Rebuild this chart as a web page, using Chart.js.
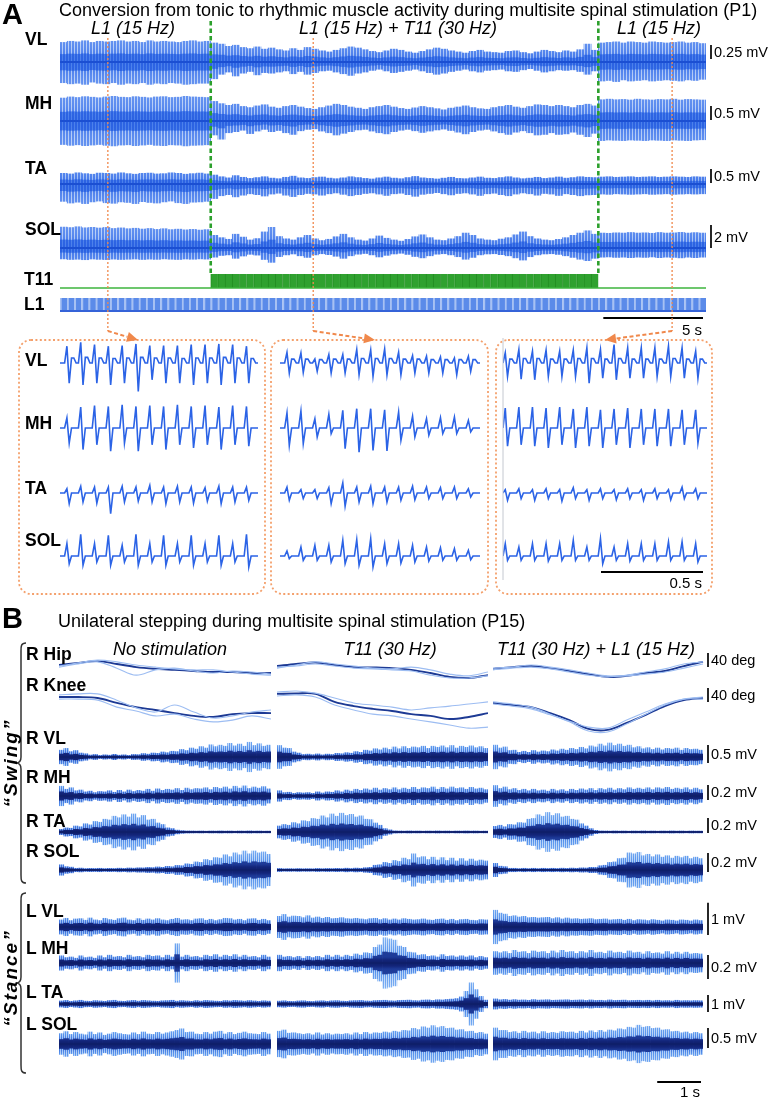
<!DOCTYPE html>
<html><head><meta charset="utf-8">
<script src="https://cdn.jsdelivr.net/npm/chart.js@4.4.1/dist/chart.umd.min.js"></script>
<style>
html,body{margin:0;padding:0;background:#fff;}
body{width:771px;height:1098px;position:relative;overflow:hidden;font-family:"Liberation Sans",Arial,Helvetica,sans-serif;color:#000;}
canvas{position:absolute;}
.t{position:absolute;white-space:nowrap;line-height:1;z-index:6;}
#ov{position:absolute;left:0;top:0;z-index:5;pointer-events:none;}
</style></head><body>
<svg id="ov" width="771" height="1098" xmlns="http://www.w3.org/2000/svg"></svg>
<script>
// ======================= DATA =======================
// ---- Panel A : P1, 90 bins of 0.36 s, envelope min/max per bin (µV)
const A_TITLE = 'Conversion from tonic to rhythmic muscle activity during multisite spinal stimulation (P1)';
const A_EPOCHS = ['L1 (15 Hz)', 'L1 (15 Hz) + T11 (30 Hz)', 'L1 (15 Hz)'];
const A_MUSCLES = ['VL', 'MH', 'TA', 'SOL'];
const A_SCALE_UV = [250, 500, 500, 2000];
const A_SCALE_TXT = ['0.25 mV', '0.5 mV', '0.5 mV', '2 mV'];
const A_SEC_PER_BIN = 0.36;
const A_TIME_BAR_S = 5;
const T11_ON_S = [7.56, 27.0];
const ZOOM_AT_S = [2.4, 12.7, 30.7];

const A_VL_HI = [350,370,360,380,350,370,360,370,380,360, 370,350,380,360,370,360,350,370,380,360,
 370,340,320,280,300,260,240,270,230,250, 220,200,240,210,260,230,200,180,210,240,
 270,250,220,190,170,200,230,210,180,160, 190,220,250,230,200,180,160,190,210,180,
 170,160,190,200,170,150,180,210,190,170, 200,180,220,320,210,340,350,360,340,360,
 350,340,360,350,340,350,360,340,350,330];
const A_VL_LO = [-370,-390,-380,-400,-360,-380,-390,-370,-400,-380, -390,-370,-400,-380,-390,-370,-380,-400,-390,-380,
 -380,-300,-220,-180,-250,-200,-170,-230,-190,-200, -180,-160,-210,-170,-220,-190,-160,-150,-180,-210,
 -240,-200,-180,-150,-130,-160,-190,-170,-150,-130, -160,-190,-220,-200,-170,-150,-130,-160,-180,-150,
 -140,-130,-160,-170,-140,-120,-150,-180,-160,-140, -150,-140,-170,-220,-160,-340,-330,-350,-320,-340,
 -330,-320,-340,-330,-320,-330,-340,-320,-330,-310];
const A_MH_HI = [820,860,840,870,850,830,860,880,850,840, 870,850,830,860,870,840,850,880,860,850,
 840,700,620,560,600,520,480,540,580,500, 460,520,560,500,450,420,480,540,600,560,
 500,460,420,480,520,560,500,450,420,470, 520,480,440,400,460,500,540,480,440,420,
 480,520,560,500,460,520,580,560,520,560, 520,480,560,600,540,760,780,760,770,750,
 780,760,750,770,760,780,750,770,760,750];
const A_MH_LO = [-840,-870,-850,-880,-860,-840,-870,-890,-860,-850, -880,-860,-840,-870,-880,-850,-860,-890,-870,-860,
 -850,-500,-650,-420,-380,-330,-450,-360,-300,-380, -340,-420,-480,-350,-300,-280,-360,-420,-500,-440,
 -380,-320,-300,-360,-420,-460,-380,-330,-300,-350, -410,-360,-320,-290,-340,-400,-460,-380,-330,-300,
 -360,-420,-480,-400,-350,-420,-500,-480,-420,-480, -460,-400,-480,-560,-440,-700,-680,-690,-700,-680,
 -690,-700,-680,-690,-700,-680,-690,-700,-680,-670];
const A_TA_HI = [380,360,400,370,350,390,380,360,400,370, 350,380,390,360,370,400,380,350,370,390,
 360,320,260,220,300,240,200,230,260,210, 190,240,280,220,200,230,250,210,190,220,
 260,230,200,180,220,250,210,190,230,270, 220,200,180,210,240,200,190,220,250,210,
 200,230,260,220,190,210,240,200,220,250, 210,230,260,240,230,250,260,240,250,260,
 240,250,260,240,250,260,250,240,260,250];
const A_TA_LO = [-620,-680,-650,-700,-640,-610,-670,-690,-640,-660, -700,-630,-660,-680,-640,-610,-670,-700,-650,-640,
 -620,-520,-420,-380,-460,-400,-350,-380,-430,-360, -330,-400,-450,-380,-340,-360,-400,-350,-320,-370,
 -420,-380,-340,-320,-360,-410,-350,-330,-380,-440, -370,-340,-310,-350,-390,-340,-320,-360,-410,-350,
 -330,-380,-420,-360,-320,-350,-400,-340,-360,-410, -350,-380,-420,-390,-380,-360,-370,-350,-360,-370,
 -360,-350,-370,-360,-350,-370,-360,-350,-360,-350];
const A_SOL_HI = [1820,1780,1850,1760,1800,1740,1790,1700,1750,1680, 1720,1650,1700,1620,1680,1600,1640,1580,1620,1560,
 1600,1100,900,760,1200,950,700,820,1400,1800, 1000,800,700,900,1100,800,650,760,980,1200,
 900,700,620,800,1050,850,700,600,750,980, 1150,900,700,650,800,1000,1300,1100,800,700,
 650,780,900,1150,1400,1000,800,700,650,750, 900,1100,1300,1500,1200,1300,1280,1320,1300,1350,
 1300,1320,1280,1350,1300,1320,1360,1300,1340,1300];
const A_SOL_LO = [-950,-1000,-980,-1020,-960,-990,-1010,-970,-1000,-980, -960,-1000,-970,-990,-950,-980,-1000,-960,-980,-950,
 -970,-800,-650,-600,-900,-700,-550,-620,-1000,-1250, -750,-600,-520,-680,-820,-600,-500,-580,-720,-900,
 -680,-540,-480,-600,-780,-640,-520,-460,-560,-740, -860,-680,-540,-500,-600,-760,-980,-820,-600,-520,
 -500,-580,-680,-860,-1050,-760,-600,-520,-500,-560, -680,-820,-980,-1100,-900,-800,-780,-820,-800,-840,
 -800,-820,-780,-840,-800,-820,-860,-800,-840,-800];

// ---- Panel A zoom windows: one value per 15 Hz evoked response (µV): peak, trough, rebound
const ZOOM_PULSE_HZ = 15;
const ZOOM_TIME_BAR_S = 0.5;
const Z1_VL_HI = [300,370,330,300,310,340,310,310,310,330,330,340,330,300];
const Z1_VL_LO = [-360,-390,-360,-390,-360,-510,-300,-360,-360,-390,-360,-390,-360,-360];
const Z1_VL_POST = [90,100,90,80,90,100,90,90,80,90,90,100,90,80];
const Z1_MH_HI = [360,750,800,770,830,770,800,770,830,770,800,750,800,770];
const Z1_MH_LO = [-540,-770,-600,-830,-540,-830,-600,-770,-600,-710,-600,-770,-600,-650];
const Z1_TA_HI = [150,240,210,210,240,210,270,210,240,210,190,240,210,210];
const Z1_TA_LO = [-380,-320,-360,-740,-320,-290,-320,-380,-320,-360,-290,-380,-320,-260];
const Z1_SOL_HI = [1070,1890,1070,1800,930,1890,1070,1800,1070,1800,1070,1800,1070,1890];
const Z1_SOL_LO = [-670,-810,-520,-810,-520,-810,-520,-810,-520,-810,-520,-810,-520,-960];

const Z2_VL_HI = [190,180,70,150,150,240,230,250,190,130,120,110,90,120];
const Z2_VL_LO = [-180,-170,-150,-180,-180,-210,-240,-210,-210,-180,-180,-180,-210,-150];
const Z2_VL_POST = [70,70,60,70,70,80,80,80,70,70,60,60,60,60];
const Z2_MH_HI = [540,610,330,490,630,690,690,650,570,420,330,370,390,270];
const Z2_MH_LO = [-620,-560,-320,-200,-740,-860,-800,-820,-440,-320,-260,-200,-200,-140];
const Z2_TA_HI = [210,120,120,190,360,210,240,210,210,240,210,190,210,150];
const Z2_TA_LO = [-260,-200,-200,-380,-470,-320,-380,-320,-260,-240,-200,-200,-200,-140];
const Z2_SOL_HI = [440,780,930,930,1370,1420,1510,1070,1070,930,780,720,640,500];
const Z2_SOL_LO = [-230,-370,-370,-520,-670,-810,-960,-670,-610,-520,-440,-370,-370,-320];

const Z3_VL_HI = [180,240,210,230,210,230,270,240,330,270,270,270,300,270,210];
const Z3_VL_LO = [-240,-290,-300,-240,-240,-240,-360,-270,-300,-270,-270,-240,-240,-270,-270];
const Z3_VL_POST = [70,80,80,70,70,80,80,70,80,70,70,70,80,70,70];
const Z3_MH_HI = [710,750,750,710,750,680,750,650,680,710,680,680,680,650,650];
const Z3_MH_LO = [-650,-600,-650,-710,-600,-710,-650,-710,-600,-710,-600,-650,-650,-600,-540];
const Z3_TA_HI = [120,150,120,150,120,190,120,150,120,150,120,150,120,210,150];
const Z3_TA_LO = [-260,-200,-260,-200,-290,-200,-260,-200,-240,-200,-260,-200,-240,-200,-200];
const Z3_SOL_HI = [1070,780,1070,1070,1070,1370,780,1510,780,1070,1070,1070,1220,1220,1070];
const Z3_SOL_LO = [-380,-380,-380,-440,-380,-380,-380,-670,-380,-440,-380,-380,-380,-380,-520];

// ---- Panel B : P15, three conditions, EMG amplitude per 0.109 s bin (µV)
const B_TITLE = 'Unilateral stepping during multisite spinal stimulation (P15)';
const B_CONDITIONS = ['No stimulation', 'T11 (30 Hz)', 'T11 (30 Hz) + L1 (15 Hz)'];
const B_SEC_PER_BIN = 0.109;
const B_KIN_SEC_PER_SAMPLE = 0.436;
const B_TIME_BAR_S = 1;
const B_ROWS = ['R VL', 'R MH', 'R TA', 'R SOL', 'L VL', 'L MH', 'L TA', 'L SOL'];
const B_SCALE_UV = [500, 200, 200, 200, 1000, 200, 1000, 500];
const B_SCALE_TXT = ['0.5 mV', '0.2 mV', '0.2 mV', '0.2 mV', '1 mV', '0.2 mV', '1 mV', '0.5 mV'];

const R_VL = [
 [190,240,150,180,110,90,55,70,45,60,50,75,50,60,45,70,65,95,80,110,100,140,120,160,150,210,180,250,220,290,250,340,290,330,300,380,310,360,300,410,320,370,300,330],
 [320,250,240,140,110,70,80,65,85,60,80,70,100,90,120,105,150,130,190,170,230,200,250,210,280,230,290,240,280,260,300,240,300,270,310,260,320,250,300,270,310,260,290,240],
 [330,250,280,180,190,130,160,130,180,140,170,150,200,170,220,190,240,210,270,230,310,280,360,310,390,320,360,300,330,260,290,230,260,210,250,200,240,220,250,190,240,210,220,190]];
const R_MH = [
 [130,90,110,70,80,55,65,45,60,55,70,50,75,55,80,60,75,65,90,65,95,75,90,80,100,75,105,85,100,95,110,85,115,100,120,95,130,105,135,100,120,105,125,95],
 [70,45,50,35,45,40,45,35,55,40,55,50,70,55,80,65,90,75,95,80,105,80,100,85,110,85,105,90,115,90,110,100,120,90,115,95,120,100,110,90,115,95,105,85],
 [140,100,120,85,100,75,90,70,90,70,80,65,90,70,85,65,90,75,95,80,100,75,100,85,105,80,100,85,110,90,105,90,110,85,110,95,115,90,105,90,110,85,105,85]];
const R_TA = [
 [35,55,50,80,70,110,95,140,130,170,160,210,190,230,200,240,190,220,160,170,120,100,55,45,25,18,14,13,12,13,11,13,12,14,12,13,11,13,12,14,12,13,11,12],
 [80,100,90,125,110,150,140,180,170,215,190,240,210,250,220,235,200,215,170,165,120,90,45,28,15,13,12,14,12,13,11,13,12,14,12,13,11,13,12,14,12,13,11,12],
 [75,90,70,100,95,125,120,170,180,230,210,260,220,245,200,210,170,160,110,80,45,22,14,13,12,14,12,13,11,13,12,14,12,13,11,13,12,14,12,13,11,13,12,12]];
const R_SOL = [
 [55,35,30,18,20,15,17,16,18,15,17,16,19,17,21,19,23,22,27,25,32,28,38,34,48,45,65,60,85,80,110,100,130,125,160,140,180,160,200,170,200,180,190,165],
 [16,13,14,13,15,13,14,13,16,14,16,15,17,15,19,16,20,18,24,28,50,55,80,70,100,90,125,110,170,130,140,110,135,105,130,100,125,95,120,95,115,95,105,95],
 [70,40,35,18,18,15,18,15,18,15,18,16,18,16,19,17,20,18,22,21,28,27,45,50,80,85,120,125,180,170,185,150,165,140,160,135,150,125,145,130,145,120,135,120]];
const L_VL = [
 [220,270,200,250,260,210,280,220,200,270,230,210,260,280,220,200,260,210,250,220,260,220,200,240,270,220,230,200,250,260,210,240,200,230,270,260,220,240,200,250,260,210,240,200],
 [330,390,310,340,330,290,350,280,310,270,300,260,270,290,260,250,270,250,230,260,270,230,260,220,250,220,260,240,220,230,250,220,210,240,250,210,240,200,230,240,210,200,230,220],
 [520,430,400,330,350,310,330,290,300,280,290,300,260,290,250,280,250,260,240,250,260,230,240,250,220,230,240,210,240,200,230,220,200,230,210,190,220,210,190,220,210,190,220,200]];
const L_MH = [
 [60,45,50,40,60,45,50,40,60,45,65,50,55,45,65,50,55,45,65,55,60,45,65,50,160,50,65,50,55,45,65,55,70,50,65,55,70,50,65,50,55,45,65,50],
 [65,50,55,45,55,40,55,45,55,45,65,50,65,50,65,55,75,65,85,80,130,150,210,200,190,140,130,90,85,65,70,55,60,50,70,55,60,50,60,50,60,45,55,45],
 [95,85,95,80,105,90,95,80,100,90,95,80,100,85,105,90,95,80,95,85,105,85,90,80,100,85,90,80,100,85,90,75,95,80,85,75,95,75,90,75,90,75,80,75]];
const L_TA = [
 [180,210,160,190,220,170,160,200,180,160,200,220,170,160,190,210,170,210,190,170,160,190,200,220,170,200,180,160,200,170,210,190,170,160,200,180,210,190,170,200,180,160,190,170],
 [170,190,160,150,180,190,160,150,180,190,160,190,200,170,160,190,200,210,180,170,200,210,220,190,180,210,220,230,200,190,230,240,210,250,240,270,290,320,420,750,1250,850,450,230],
 [300,250,270,230,260,230,240,220,260,230,240,250,220,230,240,250,220,230,240,210,240,210,220,200,240,210,220,230,200,210,220,200,220,190,220,190,200,180,220,190,200,190,200,190]];
const L_SOL = [
 [260,310,240,290,250,230,300,240,280,220,250,290,260,240,230,280,240,300,250,240,290,250,280,310,340,380,290,300,250,240,290,250,300,320,250,290,240,270,300,260,250,240,290,250],
 [320,350,270,280,260,240,260,230,280,230,260,230,250,240,260,230,280,240,290,250,280,270,300,280,320,300,340,330,390,360,430,400,460,410,440,390,400,350,360,310,320,270,290,250],
 [400,340,340,290,310,270,320,280,300,260,310,270,290,270,310,290,300,270,320,280,330,290,340,300,350,330,380,360,420,400,470,420,440,390,400,350,360,310,320,280,300,260,290,260]];

// ---- Panel B kinematics (deg), 12 samples per condition: mean and two single cycles
const HIP_MEAN = [[30,36,41,33,24,19,16,13,10,10,7,7],[27,33,37,30,24,23,21,16,7,-4,-7,1],[19,24,27,21,13,4,-4,-1,7,13,27,39]];
const HIP_C1 = [[24,33,39,21,1,16,21,13,7,13,10,4],[21,30,39,33,27,21,19,24,16,4,-1,10],[16,21,24,19,10,1,-4,1,10,19,33,39]];
const HIP_C2 = [[27,36,44,39,30,24,19,16,16,10,4,1],[24,27,33,27,21,19,16,13,1,-7,-7,-1],[21,24,30,24,16,7,-1,-1,4,10,21,33]];
const KNEE_MEAN = [[60,60,57,43,31,23,14,6,3,11,14,14],[69,70,69,46,34,26,20,11,6,-3,3,14],[43,37,31,14,-6,-31,-34,-14,9,34,51,57]];
const KNEE_C1 = [[66,69,69,51,29,17,37,17,0,6,17,23],[74,77,71,57,43,37,31,23,29,34,40,46],[46,40,31,11,-11,-37,-40,-17,11,37,54,60]];
const KNEE_C2 = [[54,54,51,31,20,6,11,-3,-11,-6,6,-3],[63,66,60,37,23,11,6,-3,-11,-20,-29,-26],[40,34,26,9,-9,-26,-29,-6,17,40,54,54]];
const KIN_SCALE_DEG = 40;

// ======================= LAYOUT / STYLE =======================
const FONT = '"Liberation Sans", Arial, Helvetica, sans-serif';
const A_X = [60, 706];
const A_ROWS = [
  {hi:A_VL_HI, lo:A_VL_LO, cy:62,  half:26, uvpx:17.86, bar:59,  lab:40},
  {hi:A_MH_HI, lo:A_MH_LO, cy:121, half:30, uvpx:35.7,  bar:120, lab:104},
  {hi:A_TA_HI, lo:A_TA_LO, cy:184, half:24, uvpx:35.7,  bar:183, lab:169},
  {hi:A_SOL_HI,lo:A_SOL_LO,cy:248, half:26, uvpx:87,    bar:248, lab:230}];
const Z_BOX_X = [[60,258],[280,480],[503,707]];
const Z_LEAD = [3,3,1];
const Z_ROWS_Y = [363, 428, 493, 556];
const Z_LAB_Y = [361, 424, 489, 541];
const B_SEG_X = [[59,271],[277,488],[493,703]];
const B_LAY = [
  {cy:757, half:18, uvpx:27.8, bar:763, lab:739},
  {cy:796, half:16, uvpx:13.3, bar:800, lab:778},
  {cy:832, half:24, uvpx:13.3, bar:833, lab:822},
  {cy:870, half:22, uvpx:10.5, bar:872, lab:852},
  {cy:927, half:26, uvpx:31,   bar:935, lab:912},
  {cy:963, half:28, uvpx:8.3,  bar:979, lab:949},
  {cy:1004,half:24, uvpx:59,   bar:1012,lab:993},
  {cy:1044,half:26, uvpx:25,   bar:1048,lab:1025}];
const SCALE_FONT = '14.5px ' + FONT;

Chart.defaults.animation = false;
Chart.defaults.responsive = false;
Chart.defaults.maintainAspectRatio = false;
Chart.defaults.events = [];
Chart.defaults.plugins.legend.display = false;
Chart.defaults.plugins.tooltip.enabled = false;

const tracePlugin = {
  id: 'trace',
  afterDatasetsDraw(chart, args, o) {
    const ctx = chart.ctx, x = chart.scales.x, y = chart.scales.y, ca = chart.chartArea;
    if (o.baseColor) {
      const y0 = y.getPixelForValue(0);
      ctx.save(); ctx.strokeStyle = o.baseColor; ctx.lineWidth = o.baseWidth;
      ctx.beginPath(); ctx.moveTo(ca.left, y0); ctx.lineTo(ca.right, y0); ctx.stroke(); ctx.restore();
    }
    if (o.vValue) {
      const len = Math.abs(y.getPixelForValue(o.vValue) - y.getPixelForValue(0));
      ctx.save(); ctx.strokeStyle = '#000'; ctx.lineWidth = 1.7;
      ctx.beginPath(); ctx.moveTo(o.vX, o.vBottom); ctx.lineTo(o.vX, o.vBottom - len); ctx.stroke();
      ctx.fillStyle = '#000'; ctx.font = SCALE_FONT; ctx.textAlign = 'left'; ctx.textBaseline = 'middle';
      ctx.fillText(o.vLabel, o.vX + 3, o.vBottom - len / 2 + 1); ctx.restore();
    }
    if (o.hValue) {
      const len = x.getPixelForValue(o.hValue) - x.getPixelForValue(0);
      ctx.save(); ctx.strokeStyle = '#000'; ctx.lineWidth = 2;
      ctx.beginPath(); ctx.moveTo(o.hRight - len, o.hY); ctx.lineTo(o.hRight, o.hY); ctx.stroke();
      ctx.fillStyle = '#000'; ctx.font = '15px ' + FONT; ctx.textAlign = 'right'; ctx.textBaseline = 'middle';
      ctx.fillText(o.hLabel, o.hRight - 1, o.hLabelY); ctx.restore();
    }
  }
};
Chart.register(tracePlugin);

function mkCanvas(left, top, w, h) {
  const c = document.createElement('canvas');
  c.width = w; c.height = h;
  c.style.left = left + 'px'; c.style.top = top + 'px'; c.style.width = w + 'px'; c.style.height = h + 'px';
  document.body.appendChild(c);
  return c.getContext('2d');
}
function vGrad(ctx, h, stops, center) {
  const g = ctx.createLinearGradient(0, 0, 0, h), pts = [];
  stops.forEach(([d, c]) => { pts.push([center - d, c]); pts.push([center + d, c]); });
  pts.sort((a, b) => a[0] - b[0]);
  pts.forEach(([p, c]) => g.addColorStop(Math.min(1, Math.max(0, p / h)), c));
  return g;
}
// striped fill: 'on' columns use the gradient, remaining columns use gap gradient (dense hairline look)
function stripeFill(chart, key, st, center) {
  chart._g = chart._g || {};
  if (chart._g[key]) return chart._g[key];
  const h = chart.height, pc = document.createElement('canvas');
  pc.width = st.pitch; pc.height = h;
  const p = pc.getContext('2d');
  p.fillStyle = vGrad(p, h, st.gap, center); p.fillRect(0, 0, st.pitch, h);
  p.fillStyle = vGrad(p, h, st.on, center); p.fillRect(0, 0, st.onCols, h);
  chart._g[key] = chart.ctx.createPattern(pc, 'repeat');
  return chart._g[key];
}
const A_STYLE = {
  fringe: { pitch: 3, onCols: 2, on: [[0,'#3a70e7'],[5,'#4a7deb'],[14,'#5b8bef'],[30,'#6b97f1']], gap: [[0,'#8fb0f3'],[10,'#afc8f6'],[30,'#c8daf9']] },
  core: { pitch: 3, onCols: 2, on: [[0,'#2b62e2'],[30,'#3269e4']], gap: [[0,'#4a7fea'],[30,'#5a8bed']] },
  coreFactor: 2.6, base: '#1b4fd2', baseW: 2.2 };
const B_STYLE = {
  fringe: { pitch: 2, onCols: 1, on: [[0,'#2a55c8'],[4,'#3a70dc'],[10,'#5a96ee'],[25,'#7fb2f4']], gap: [[0,'#6d96e6'],[8,'#b2cff6'],[25,'#d6e6fb']] },
  core: { pitch: 2, onCols: 2, on: [[0,'#0f1f6a'],[3,'#13257a'],[6,'#1d3a98'],[30,'#23459f']], gap: [[0,'#0f1f6a'],[30,'#23459f']] },
  coreFactor: 2.3, base: '#0f1f6a', baseW: 1.4 };

function bandChart(p) {
  const top = p.cy - p.half, h = 2 * p.half + (p.padB || 0);
  const ctx = mkCanvas(p.left, top, p.width, h);
  const rng = p.half * p.uvpx, S = p.style;
  const o = Object.assign({ baseColor: S.base, baseWidth: S.baseW }, p.trace || {});
  if (o.vBottom !== undefined) { o.vBottom -= top; o.vX -= p.left; }
  if (o.hY !== undefined) { o.hY -= top; o.hLabelY -= top; o.hRight -= p.left; }
  return new Chart(ctx, {
    type: 'bar',
    data: { labels: p.data.map((_, i) => i), datasets: [
      { data: p.data, yAxisID: 'y', backgroundColor: (c) => stripeFill(c.chart, 'f', S.fringe, p.half),
        borderWidth: 0, categoryPercentage: 1, barPercentage: 1, grouped: false, order: 2 },
      { data: p.data, yAxisID: 'yc', backgroundColor: (c) => stripeFill(c.chart, 'c', S.core, p.half),
        borderWidth: 0, categoryPercentage: 1, barPercentage: 1, grouped: false, order: 1 }] },
    options: { devicePixelRatio: 1,
      layout: { padding: { left: p.padL || 0, right: p.padR || 0, top: 0, bottom: p.padB || 0 } },
      scales: { x: { display: false },
        y: { display: false, min: -rng, max: rng },
        yc: { display: false, min: -rng * S.coreFactor, max: rng * S.coreFactor } },
      plugins: { trace: o } }
  });
}

// ======================= TEXT =======================
function txt(s, x, y, css, align) {
  const d = document.createElement('div'); d.className = 't'; d.textContent = s;
  d.style.left = x + 'px'; d.style.top = y + 'px';
  d.style.cssText += css;
  const tx = align === 'center' ? '-50%' : align === 'right' ? '-100%' : '0';
  d.style.transform = 'translate(' + tx + ',-50%)';
  document.body.appendChild(d); return d;
}
const LAB = 'font-weight:bold;font-size:17.5px;';
const SUB = 'font-style:italic;font-size:18px;';
txt('A', 2, 14, 'font-weight:bold;font-size:29px;');
txt(A_TITLE, 59, 10, 'font-size:18px;');
[[133,28],[398,28],[659,28]].forEach(([x, y], i) => txt(A_EPOCHS[i], x, y, SUB, 'center'));
A_ROWS.forEach((r, i) => txt(A_MUSCLES[i], 25, r.lab, LAB));
txt('T11', 24, 280, LAB); txt('L1', 24, 305, LAB);
A_MUSCLES.forEach((m, i) => txt(m, 25, Z_LAB_Y[i], LAB));
txt('B', 2, 618, 'font-weight:bold;font-size:29px;');
txt(B_TITLE, 58, 621, 'font-size:18px;');
[[170,649],[390,649],[596,649]].forEach(([x, y], i) => txt(B_CONDITIONS[i], x, y, SUB, 'center'));
txt('R Hip', 26, 655, LAB); txt('R Knee', 26, 686, LAB);
B_ROWS.forEach((r, i) => txt(r, 26, B_LAY[i].lab, LAB));
const rot = 'font-weight:bold;font-style:italic;font-size:19px;letter-spacing:2px;';
[['\u201CSwing\u201D', 763], ['\u201CStance\u201D', 978]].forEach(([s, y]) => {
  const d = txt(s, 10, y, rot, 'center'); d.style.transform = 'translate(-50%,-50%) rotate(-90deg)'; });

// ======================= PANEL A =======================
const aW = 771, aPadL = A_X[0], aPadR = 771 - A_X[1];
A_ROWS.forEach((r, i) => {
  bandChart({ left: 0, width: aW, cy: r.cy, half: r.half, uvpx: r.uvpx, padL: aPadL, padR: aPadR,
    data: r.lo.map((lo, k) => [lo, r.hi[k]]), style: A_STYLE,
    trace: { vValue: A_SCALE_UV[i], vX: 711, vBottom: r.bar, vLabel: A_SCALE_TXT[i] } });
});
const binCenters = A_VL_HI.map((_, i) => (i + 0.5) * A_SEC_PER_BIN);
const t11Data = binCenters.map(t => (t >= T11_ON_S[0] && t <= T11_ON_S[1]) ? [0, 1] : null);
const l1Data = binCenters.map(() => [0, 1]);
(function () {
  const ctx = mkCanvas(0, 270, aW, 22);
  new Chart(ctx, { type: 'bar',
    data: { labels: binCenters.map((_, i) => i), datasets: [{ data: t11Data, backgroundColor: '#2fa12f', borderColor: '#238e22',
      borderWidth: {left: 1, right: 0, top: 0, bottom: 0}, borderSkipped: false, categoryPercentage: 1, barPercentage: 1 }] },
    options: { devicePixelRatio: 1, layout: { padding: { left: aPadL, right: aPadR, top: 0, bottom: 0 } },
      scales: { x: { display: false }, y: { display: false, min: -4 / 14, max: 1 + 4 / 14 } },
      plugins: { trace: { baseColor: '#3cb43c', baseWidth: 1.5 } } } });
})();
const l1Chart = (function () {
  const ctx = mkCanvas(0, 294, aW, 42);
  return new Chart(ctx, { type: 'bar',
    data: { labels: binCenters.map((_, i) => i), datasets: [{ data: l1Data, backgroundColor: '#5b8be9', borderColor: '#a7c1f3',
      borderWidth: {left: 2, right: 0, top: 0, bottom: 0}, borderSkipped: false, categoryPercentage: 1, barPercentage: 1 }] },
    options: { devicePixelRatio: 1, layout: { padding: { left: aPadL, right: aPadR, top: 0, bottom: 25 } },
      scales: { x: { display: false }, y: { display: false, min: 0, max: 1 + 4 / 13 } },
      plugins: { trace: { baseColor: '#3563d8', baseWidth: 2, hValue: A_TIME_BAR_S / A_SEC_PER_BIN, hRight: 703, hY: 318 - 294, hLabel: '5 s', hLabelY: 331 - 294 } } } });
})();
const tPix = t => l1Chart.scales.x.getPixelForValue(t / A_SEC_PER_BIN - 0.5);

function pulses(hi, lo, post, lead) {
  const s = new Array(lead).fill(0);
  hi.forEach((h, i) => { const p = post ? post[i] : 0; s.push(h, lo[i], p, p, 0, 0); });
  return s;
}
const ZW = [
  [[Z1_VL_HI, Z1_VL_LO, Z1_VL_POST], [Z1_MH_HI, Z1_MH_LO], [Z1_TA_HI, Z1_TA_LO], [Z1_SOL_HI, Z1_SOL_LO]],
  [[Z2_VL_HI, Z2_VL_LO, Z2_VL_POST], [Z2_MH_HI, Z2_MH_LO], [Z2_TA_HI, Z2_TA_LO], [Z2_SOL_HI, Z2_SOL_LO]],
  [[Z3_VL_HI, Z3_VL_LO, Z3_VL_POST], [Z3_MH_HI, Z3_MH_LO], [Z3_TA_HI, Z3_TA_LO], [Z3_SOL_HI, Z3_SOL_LO]]];
const SAMPLES_PER_PULSE = 6;
ZW.forEach((win, w) => {
  const [x0, x1] = Z_BOX_X[w];
  win.forEach((arrs, m) => {
    const series = pulses(arrs[0], arrs[1], arrs[2], Z_LEAD[w]);
    const half = 30, cy = Z_ROWS_Y[m], uvpx = A_ROWS[m].uvpx;
    const last = (w === 2 && m === 3);
    const top = cy - half, h = 2 * half + (last ? 10 : 0);
    const ctx = mkCanvas(x0, top, x1 - x0, h);
    const tr = last ? { hValue: ZOOM_TIME_BAR_S * ZOOM_PULSE_HZ * SAMPLES_PER_PULSE, hRight: 703 - x0, hY: 572 - top, hLabel: '0.5 s', hLabelY: 584 - top } : {};
    new Chart(ctx, { type: 'line',
      data: { labels: series.map((_, i) => i), datasets: [{ data: series, borderColor: '#2b63e6', borderWidth: 1.6, pointRadius: 0, tension: 0, fill: false }] },
      options: { devicePixelRatio: 1, layout: { padding: { left: 0, right: 0, top: 0, bottom: last ? 10 : 0 } },
        scales: { x: { display: false, offset: false }, y: { display: false, min: -half * uvpx, max: half * uvpx } },
        plugins: { trace: tr } } });
  });
});

// ======================= PANEL B =======================
const B_EMG = [R_VL, R_MH, R_TA, R_SOL, L_VL, L_MH, L_TA, L_SOL];
B_EMG.forEach((row, r) => {
  const L = B_LAY[r];
  row.forEach((amps, s) => {
    const [x0, x1] = B_SEG_X[s];
    const isLast = s === 2;
    const p = { left: x0, width: isLast ? 771 - x0 : x1 - x0, padR: isLast ? 771 - x1 : 0,
      cy: L.cy, half: L.half, uvpx: L.uvpx, data: amps.map(a => [-a, a]), style: B_STYLE, trace: {} };
    if (isLast) Object.assign(p.trace, { vValue: B_SCALE_UV[r], vX: 708, vBottom: L.bar, vLabel: B_SCALE_TXT[r] });
    if (isLast && r === 7) {
      p.padB = 1098 - (L.cy + L.half);
      Object.assign(p.trace, { hValue: B_TIME_BAR_S / B_SEC_PER_BIN, hRight: 701, hY: 1082, hLabel: '1 s', hLabelY: 1093 });
    }
    bandChart(p);
  });
});
function kinChart(seg, top, h, degTop, degBottom, sets, barBottom) {
  const [x0, x1] = B_SEG_X[seg], isLast = seg === 2;
  const ctx = mkCanvas(x0, top, isLast ? 771 - x0 : x1 - x0, h);
  const tr = isLast ? { vValue: KIN_SCALE_DEG, vX: 708 - x0, vBottom: barBottom - top, vLabel: '40 deg' } : {};
  new Chart(ctx, { type: 'line',
    data: { labels: sets[0].map((_, i) => (i * B_KIN_SEC_PER_SAMPLE).toFixed(2)), datasets: [
      { data: sets[1], borderColor: '#9dbdf2', borderWidth: 1.1, pointRadius: 0, tension: 0.35 },
      { data: sets[2], borderColor: '#9dbdf2', borderWidth: 1.1, pointRadius: 0, tension: 0.35 },
      { data: sets[0], borderColor: '#1d3a94', borderWidth: 1.9, pointRadius: 0, tension: 0.35 }] },
    options: { devicePixelRatio: 1, layout: { padding: { left: 0, right: isLast ? 771 - x1 : 0, top: 0, bottom: 0 } },
      scales: { x: { display: false, offset: false }, y: { display: false, min: degBottom, max: degTop } },
      plugins: { trace: tr } } });
}
const DPP = 40 / 14;
[0, 1, 2].forEach(s => {
  kinChart(s, 640, 50, 30 + 25 * DPP, 30 - 25 * DPP, [HIP_MEAN[s], HIP_C1[s], HIP_C2[s]], 667);
  kinChart(s, 678, 66, 60 + 19 * DPP, 60 - 47 * DPP, [KNEE_MEAN[s], KNEE_C1[s], KNEE_C2[s]], 702);
});

// ======================= OVERLAY =======================
const ov = document.getElementById('ov');
function el(tag, attrs) { const e = document.createElementNS('http://www.w3.org/2000/svg', tag); for (const k in attrs) e.setAttribute(k, attrs[k]); ov.appendChild(e); return e; }
const OR = '#f0884b';
[[19,265],[271,488],[496,712]].forEach(([a, b]) => el('rect', { x: a, y: 340, width: b - a, height: 254, rx: 12, ry: 12, fill: 'none', stroke: '#f4a06c', 'stroke-width': 1.8, 'stroke-dasharray': '2 2.4' }));
el('line', { x1: 503, y1: 338, x2: 503, y2: 580, stroke: '#c4c8d0', 'stroke-width': 1 });
T11_ON_S.forEach(t => { const x = tPix(t); el('line', { x1: x, y1: 21, x2: x, y2: 274, stroke: '#2ca02c', 'stroke-width': 2.6, 'stroke-dasharray': '4.5 3' }); });
const TIPS = [[138,340],[375,340],[605,340]];
ZOOM_AT_S.forEach((t, i) => {
  const x = tPix(t), yb = 331;
  el('line', { x1: x, y1: 38, x2: x, y2: yb, stroke: OR, 'stroke-width': 1.3, 'stroke-dasharray': '2 2' });
  const [tx, ty] = TIPS[i]; const dx = tx - x, dy = ty - yb, Ln = Math.hypot(dx, dy), ux = dx / Ln, uy = dy / Ln;
  const bx = tx - 11 * ux, by = ty - 11 * uy;
  el('line', { x1: x, y1: yb, x2: bx, y2: by, stroke: OR, 'stroke-width': 2, 'stroke-dasharray': '4 2.5' });
  el('path', { d: `M${tx},${ty} L${bx - 5 * uy},${by + 5 * ux} L${bx + 5 * uy},${by - 5 * ux} Z`, fill: OR });
});
function brace(t, b) {
  const m = (t + b) / 2;
  el('path', { d: `M26,${t} C21,${t} 21,${t + 3} 21,${t + 8} L21,${m - 6} C21,${m - 2} 19,${m} 16,${m} C19,${m} 21,${m + 2} 21,${m + 6} L21,${b - 8} C21,${b - 3} 21,${b} 26,${b}`, fill: 'none', stroke: '#333', 'stroke-width': 1.5 });
}
brace(643, 883); brace(893, 1073);
</script>
</body></html>
